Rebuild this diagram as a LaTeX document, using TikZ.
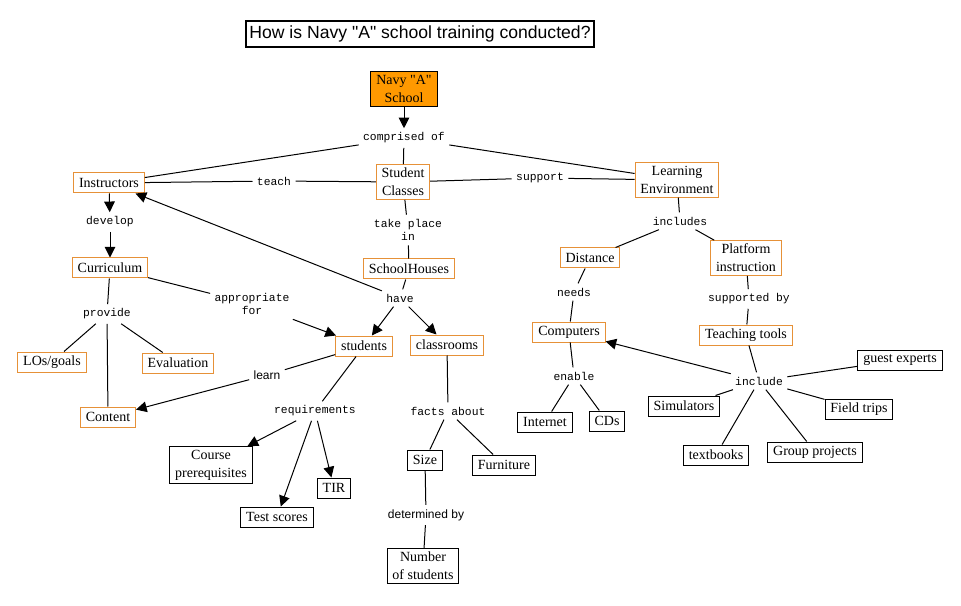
\documentclass[tikz,border=0pt]{standalone}
\usepackage{fontspec}
\setmainfont{Liberation Serif}[Ligatures=TeXOff]
\setsansfont{Liberation Sans}[Ligatures=TeXOff]
\setmonofont{Liberation Mono}
\usepackage{tikz}
\usetikzlibrary{arrows.meta}
\definecolor{rootorange}{RGB}{255,153,0}
\definecolor{boxorange}{RGB}{230,145,56}
\tikzset{
	concept/.style={draw=boxorange, fill=white, font=\fontsize{10.5}{13.5}\selectfont, align=center, inner xsep=4pt, inner ysep=2.5pt, minimum height=15pt},
	leaf/.style={concept, draw=black},
	root/.style={concept, draw=black, fill=rootorange},
	link/.style={font=\ttfamily\fontsize{8.5}{10}\selectfont, align=center, inner sep=3pt},
	slink/.style={link, font=\sffamily\fontsize{9}{10}\selectfont}
}
\begin{document}
\begin{tikzpicture}[x=0.75pt, y=-0.75pt, line width=0.75pt, >={Triangle[length=8pt, width=8pt]}]
\useasboundingbox (0,0) rectangle (961,606);
\node [draw, line width=1pt, font=\sffamily\fontsize{13.2}{15}\selectfont, inner xsep=2.5pt, minimum height=19.5pt] (title) at (420,34) {How is Navy "A" school training conducted?};
\node [root] (navy) at (404,89) {Navy "A"\\School};
\node [link] (comprised) at (404,138) {comprised of};
\node [concept] (classes) at (403,182) {Student\\Classes};
\node [concept] (instr) at (109,183) {Instructors};
\node [concept] (learnenv) at (677,180) {Learning\\Environment};
\node [link] (teach) at (274,181) {teach};
\node [link] (support) at (540,178) {support};
\node [link] (develop) at (110,222) {develop};
\node [concept] (curric) at (110,268) {Curriculum};
\node [link] (takeplace) at (408,230) {take place\\in};
\node [concept] (houses) at (409,269) {SchoolHouses};
\node [link] (have) at (400,298) {have};
\node [link] (approp) at (252,304) {appropriate\\for};
\node [link] (provide) at (107,314) {provide};
\node [concept] (goals) at (52,362) {LOs/goals};
\node [concept] (eval) at (178,363) {Evaluation};
\node [concept] (content) at (108,417) {Content};
\node [concept] (students) at (364,346) {students};
\node [concept] (rooms) at (447,345) {classrooms};
\node [slink] (learn) at (267,375) {learn};
\node [link] (reqs) at (315,411) {requirements};
\node [leaf] (prereq) at (211,465) {Course\\prerequisites};
\node [leaf] (tir) at (334,488) {TIR};
\node [leaf] (scores) at (277,517) {Test scores};
\node [link] (facts) at (448,411) {facts about};
\node [leaf] (size) at (425,460) {Size};
\node [leaf] (furn) at (504,465) {Furniture};
\node [slink] (determ) at (426,515) {determined by};
\node [leaf] (number) at (423,566) {Number\\of students};
\node [link] (includes) at (680,221) {includes};
\node [concept] (distance) at (590,258) {Distance};
\node [concept] (platform) at (746,258) {Platform\\instruction};
\node [link] (needs) at (574,292) {needs};
\node [link] (suppby) at (749,299) {supported by};
\node [concept] (computers) at (569,332) {Computers};
\node [concept] (tools) at (746,335) {Teaching tools};
\node [link] (enable) at (574,376) {enable};
\node [link] (include) at (759,381) {include};
\node [leaf] (internet) at (545,422) {Internet};
\node [leaf] (cds) at (607,421) {CDs};
\node [leaf] (sims) at (684,406) {Simulators};
\node [leaf] (guests) at (900,360) {guest experts};
\node [leaf] (trips) at (859,409) {Field trips};
\node [leaf] (books) at (716,455) {textbooks};
\node [leaf] (groups) at (815,452) {Group projects};
\path[->]
(navy) edge (comprised)
(instr) edge (develop)
(develop) edge (curric)
(have) edge (students)
(have) edge (rooms)
(have) edge (instr)
(approp) edge (students)
(learn) edge (content)
(reqs) edge (prereq)
(reqs) edge (scores)
(reqs) edge (tir)
(include) edge (computers);
\path[-]
(comprised) edge (instr) edge (classes) edge (learnenv)
(classes) edge (teach) edge (support) edge (takeplace)
(teach) edge (instr)
(support) edge (learnenv)
(takeplace) edge (houses)
(houses) edge (have)
(curric) edge (approp) edge (provide)
(provide) edge (goals) edge (eval) edge (content)
(students) edge (learn) edge (reqs)
(rooms) edge (facts)
(facts) edge (size) edge (furn)
(size) edge (determ)
(determ) edge (number)
(learnenv) edge (includes)
(includes) edge (distance) edge (platform)
(distance) edge (needs)
(needs) edge (computers)
(platform) edge (suppby)
(suppby) edge (tools)
(computers) edge (enable)
(enable) edge (internet) edge (cds)
(tools) edge (include)
(include) edge (sims) edge (guests) edge (trips) edge (books) edge (groups);
\end{tikzpicture}
\end{document}
